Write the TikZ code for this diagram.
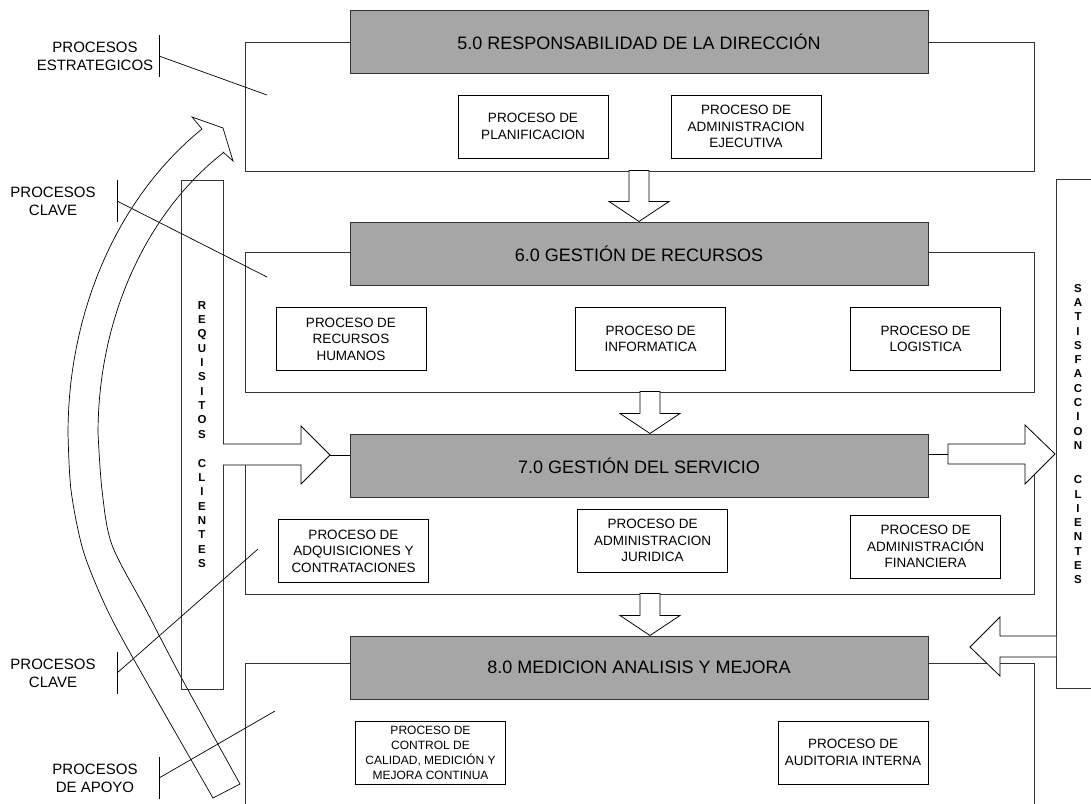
\documentclass[tikz,border=0pt]{standalone}
\usepackage{fontspec}
\setmainfont{Liberation Sans}

\tikzset{
  zone/.style={draw=black!80, line width=1pt},
  area/.style={draw=black!80, line width=1pt, fill=black!35, inner sep=0pt,
    minimum width=578pt, minimum height=63pt, font=\fontsize{18}{21}\selectfont},
  proc/.style={draw, line width=0.8pt, fill=white, align=center, inner sep=0pt,
    minimum width=150pt, minimum height=63pt, font=\fontsize{13.5}{16.5}\selectfont},
  tag/.style={align=center, inner sep=0pt, font=\fontsize{15}{18}\selectfont},
  client/.style={draw=black!80, line width=1pt, align=center, inner sep=0pt,
    minimum height=509pt, font=\bfseries\fontsize{11.5}{14.3}\selectfont},
  blockarrow/.style={draw, line width=0.8pt, fill=white, line join=miter},
  pointer/.style={line width=0.7pt}
}

\begin{document}
\begin{tikzpicture}[x=1pt, y=-1pt]
\useasboundingbox (0,0) rectangle (1091,803);

% frames of the four areas
\draw[zone] (245,42) rectangle (1034,171);
\draw[zone] (245,252) rectangle (1034,392);
\draw[zone] (245,465) -- (245,594) -- (1034,594) -- (1034,470);
\draw[zone] (245,810) -- (245,663) -- (1034,663) -- (1034,810);

% big curved arrow on the left
\draw[pointer] plot[smooth] coordinates {(213,798) (133,658) (105,605) (83,550)
    (71,490) (68,433)}
  -- plot[domain=0:56.4, samples=30] ({368-300*cos(\x)},{433-365*sin(\x)})
  -- (192,117) -- (223,128) -- (233,161) -- (223,152)
  -- plot[domain=57.5:0, samples=30] ({368-270*cos(\x)},{433-332*sin(\x)})
  -- plot[smooth] coordinates {(98,433) (102,490) (112,545) (146,610)
    (181,677) (240,784)}
  -- cycle;

% client bars
\node[client, minimum width=42pt] (req) at (202,434.5)
  {R\\E\\Q\\U\\I\\S\\I\\T\\O\\S\\[15pt]C\\L\\I\\E\\N\\T\\E\\S};
\node[client, minimum width=44pt] (sat) at (1078,434)
  {S\\A\\T\\I\\S\\F\\A\\C\\C\\I\\O\\N\\[20pt]C\\L\\I\\E\\N\\T\\E\\S};

% areas
\node[area] (d5) at (639,41.5) {5.0 RESPONSABILIDAD DE LA DIRECCIÓN};
\node[area] (d6) at (639,253.5) {6.0 GESTIÓN DE RECURSOS};
\node[area] (d7) at (639,465.5) {7.0 GESTIÓN DEL SERVICIO};
\node[area] (d8) at (639,667.5) {8.0 MEDICION ANALISIS Y MEJORA};

% processes
\node[proc] (plan) at (533,126.5) {PROCESO DE\\PLANIFICACION};
\node[proc] (ejec) at (746,126.5) {PROCESO DE\\ADMINISTRACION\\EJECUTIVA};
\node[proc] (rrhh) at (351,339) {PROCESO DE\\RECURSOS\\HUMANOS};
\node[proc] (info) at (650.5,339) {PROCESO DE\\INFORMATICA};
\node[proc] (logi) at (925.5,339) {PROCESO DE\\LOGISTICA};
\node[proc] (adqu) at (353.5,551) {PROCESO DE\\ADQUISICIONES Y\\CONTRATACIONES};
\node[proc] (juri) at (652.5,540.5) {PROCESO DE\\ADMINISTRACION\\JURIDICA};
\node[proc] (fina) at (925.5,546.5) {PROCESO DE\\ADMINISTRACIÓN\\FINANCIERA};
\node[proc, font=\fontsize{12}{15}\selectfont] (cali) at (430.5,752.5)
  {PROCESO DE\\CONTROL DE\\CALIDAD, MEDICIÓN Y\\MEJORA CONTINUA};
\node[proc] (audi) at (853,752.5) {PROCESO DE\\AUDITORIA INTERNA};

% arrows down between the areas
\foreach \n/\dx/\len in {d6/0/51, d7/11/42, d8/11/42}
  \draw[blockarrow] ([xshift=\dx pt]\n.north) -- ++(-30,-20) -- ++(20,0)
    -- ++(0,20-\len) -- ++(20,0) -- ++(0,\len-20) -- ++(20,0) -- cycle;

% requirements in, satisfaction out, feedback
\coordinate (in) at (330,455);
\coordinate (out) at (948,454);
\draw[blockarrow] (223,444) -- (301,444) -- (301,426) -- (in) -- (301,484)
  -- (301,465) -- (223,465);
\draw[pointer] (in) -- (in -| d7.west);
\draw[pointer] (d7.east |- out) -- (out);
\draw[blockarrow] (out) -- (948,444) -- (1025,444) -- (1025,425) -- (1055,454)
  -- (1025,484) -- (1025,464) -- (948,464) -- cycle;
\draw[blockarrow] (1056,636) -- (1000,636) -- (1000,617) -- (970,647)
  -- (1000,676) -- (1000,657) -- (1056,657);

% process type labels
\node[tag] (t1) at (95,56) {PROCESOS\\ESTRATEGICOS};
\node[tag] (t2) at (53,201) {PROCESOS\\CLAVE};
\node[tag] (t3) at (53,673) {PROCESOS\\CLAVE};
\node[tag] (t4) at (95,778) {PROCESOS\\DE APOYO};

\foreach \t/\ex/\ey in {t1/267/95, t2/267/277, t3/258/549, t4/275/711} {
  \draw[pointer] ([xshift=64pt,yshift=21pt]\t.center) -- ([xshift=64pt,yshift=-21pt]\t.center);
  \draw[pointer] ([xshift=64pt]\t.center) -- (\ex,\ey);
}
\end{tikzpicture}
\end{document}
